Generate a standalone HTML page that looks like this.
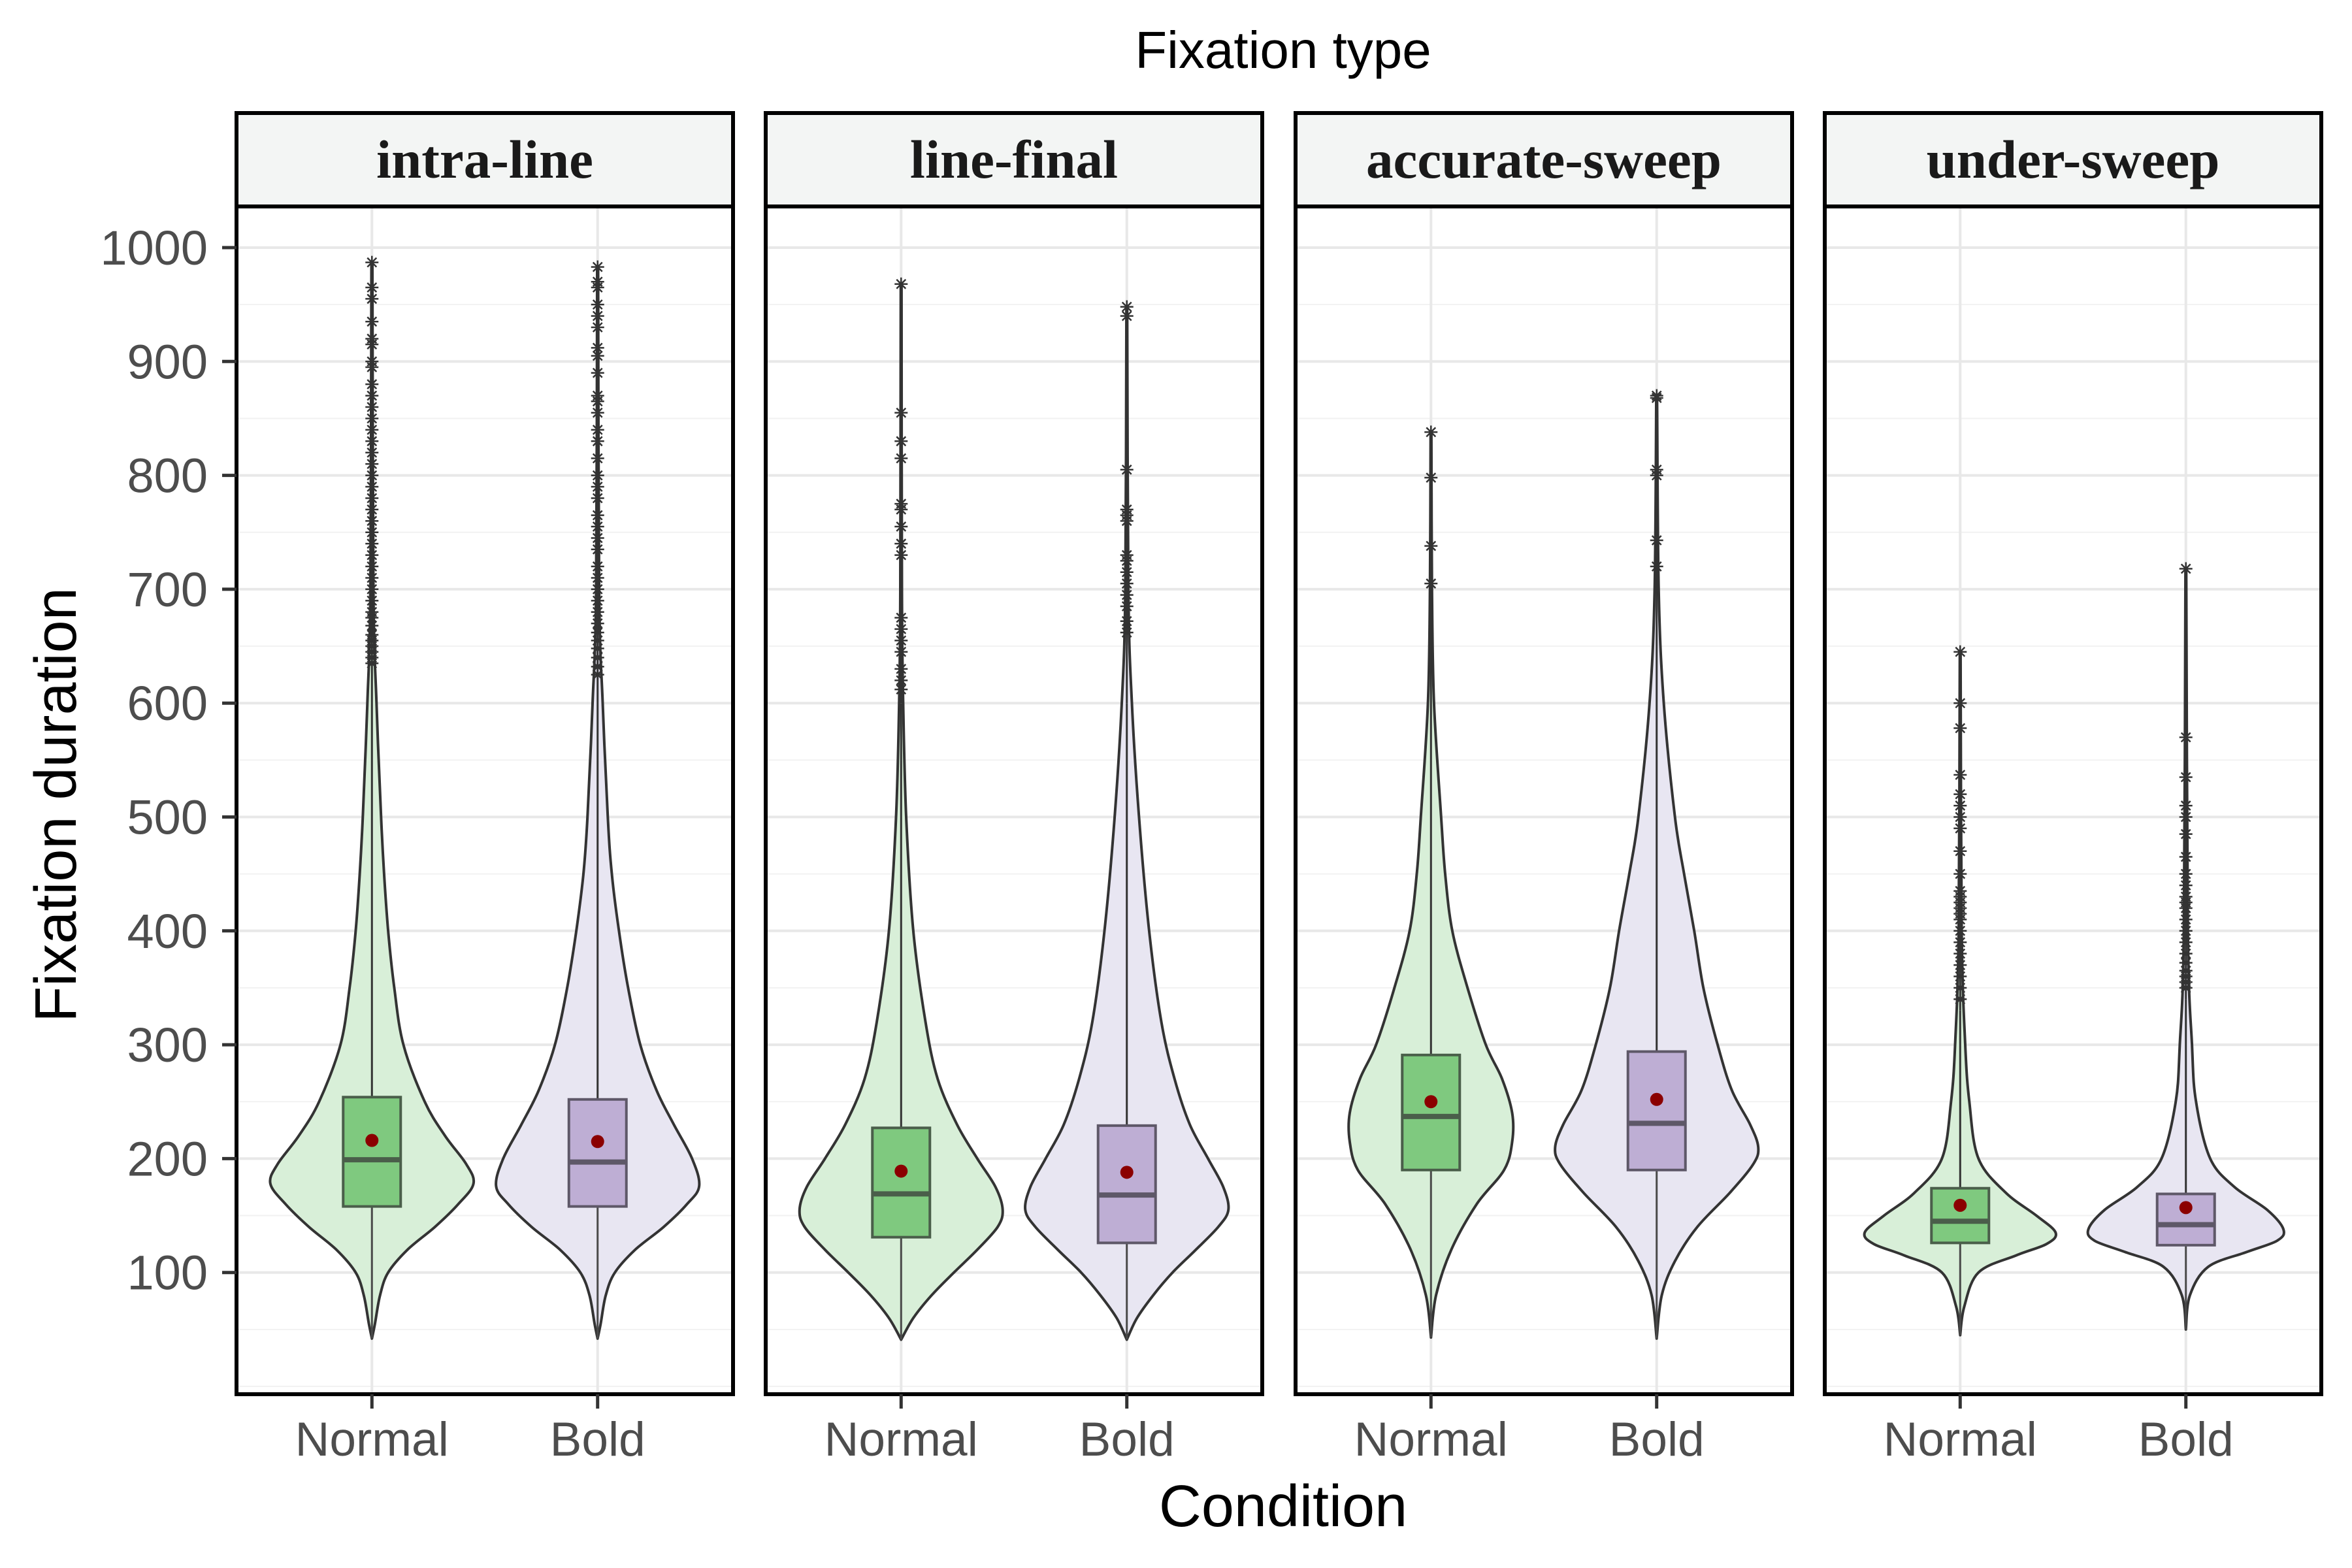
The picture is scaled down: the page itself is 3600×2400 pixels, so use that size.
<!DOCTYPE html>
<html><head><meta charset="utf-8"><style>
html,body{margin:0;padding:0;background:#fff;}
svg{display:block;}
</style></head><body>
<svg id="chart" width="3600" height="2400" xmlns="http://www.w3.org/2000/svg">
<rect x="0" y="0" width="3600" height="2400" fill="#fff"/>
<g id="grid"></g>
<g id="marks"></g>
<g id="frame"></g>
<g id="axes"></g>
<text x="1964" y="104" text-anchor="middle" font-family="Liberation Sans, sans-serif" font-size="80" fill="#000">Fixation type</text>
<text x="1964" y="2336" text-anchor="middle" font-family="Liberation Sans, sans-serif" font-size="90" fill="#000">Condition</text>
<text transform="translate(116,1232) rotate(-90)" text-anchor="middle" font-family="Liberation Sans, sans-serif" font-size="90" fill="#000">Fixation duration</text>
</svg>
<script>
const facets = ["intra-line","line-final","accurate-sweep","under-sweep"];
const conditions = ["Normal","Bold"];
const yTicks = [100,200,300,400,500,600,700,800,900,1000];
const yMinor = [0,50,150,250,350,450,550,650,750,850,950];
// box stats per facet: [Normal, Bold]
const q1 = [[158,158],[131,126],[190,190],[126,124]];
const median = [[199,197],[169,168],[237,231],[145,142]];
const q3 = [[254,252],[227,229],[291,294],[174,169]];
const means = [[216,215],[189,188],[250,252],[159,157]];
const whiskerLow = [[42,42],[41,41],[43,42],[45,50]];
const whiskerHigh = [[630,625],[600,600],[700,720],[330,340]];
// violin profiles: values and relative half-widths
const vVals = [
 [[42,55,80,100,120,140,160,178,195,220,250,300,350,400,450,500,600,700,987],
  [42,55,80,100,120,140,160,176,200,230,260,300,350,400,450,500,600,700,983]],
 [[41,60,80,100,120,140,155,175,200,230,270,320,400,500,600,700,968],
  [41,60,80,100,120,140,155,175,200,230,270,320,400,500,600,700,948]],
 [[43,80,120,160,190,215,240,270,300,350,400,450,500,600,700,838],
  [42,80,110,140,170,195,210,230,260,300,350,400,450,500,600,700,870]],
 [[45,70,100,115,125,135,150,170,200,250,300,400,645],
  [50,80,105,118,128,138,155,175,200,250,300,400,718]]
];
const vDens = [
 [[0,.03,.08,.16,.35,.62,.85,1,.93,.72,.52,.31,.22,.16,.12,.09,.045,.015,.005],
  [0,.03,.08,.17,.37,.65,.88,1,.93,.75,.58,.42,.3,.21,.14,.1,.05,.015,.005]],
 [[0,.12,.3,.52,.75,.95,1,.93,.75,.55,.36,.24,.12,.05,.02,.008,.004],
  [0,.1,.26,.45,.68,.9,1,.95,.8,.62,.47,.34,.22,.12,.05,.015,.004]],
 [[0,.05,.2,.45,.72,.8,.8,.7,.54,.36,.21,.14,.1,.03,.01,.004],
  [0,.05,.18,.4,.72,.95,1,.92,.74,.6,.46,.37,.27,.18,.07,.02,.004]],
 [[0,.04,.18,.55,.85,.94,.75,.45,.18,.09,.05,.015,.004],
  [0,.04,.22,.6,.9,.96,.8,.48,.24,.1,.06,.02,.004]]
];
const outliers = [
 [[635,640,645,650,655,660,668,675,680,690,700,710,720,730,740,750,760,770,780,790,800,810,820,830,840,850,860,870,880,895,900,915,920,935,955,965,987],
  [625,632,640,648,655,662,670,680,690,700,710,720,735,745,755,765,780,790,800,815,830,840,855,865,870,890,905,912,930,940,950,965,970,983]],
 [[612,620,630,645,655,665,675,730,740,755,770,775,815,830,855,968],
  [662,672,685,695,705,715,725,730,760,765,770,805,940,948]],
 [[705,738,798,838],
  [720,743,800,805,868,870]],
 [[340,350,360,370,380,390,400,410,415,420,425,430,435,450,470,490,500,510,520,537,578,600,645],
  [350,355,360,365,372,380,390,400,410,420,425,430,440,450,465,485,500,510,535,570,718]]
];
const NS="http://www.w3.org/2000/svg";
const panelX0 = [362,1172,1983,2793];
const panelW = 760, plotTop = 316, plotBot = 2134, stripTop = 173;
function yS(v){ return 379 + (1000 - v) * 1.743; }
function xS(p, c){ return panelX0[p] + (0.6 + c) * (panelW / 2.2); }
const unitPx = panelW / 2.2;
function mk(parent, tag, attrs){ const e = document.createElementNS(NS, tag); for (const k in attrs) e.setAttribute(k, attrs[k]); parent.appendChild(e); return e; }
function smooth(pts){
  let d = 'M' + pts[0][0].toFixed(1) + ',' + pts[0][1].toFixed(1);
  for (let i = 0; i < pts.length - 1; i++) {
    const p0 = pts[Math.max(0,i-1)], p1 = pts[i], p2 = pts[i+1], p3 = pts[Math.min(pts.length-1,i+2)];
    const c1x = p1[0] + (p2[0]-p0[0])/6, c1y = p1[1] + (p2[1]-p0[1])/6;
    const c2x = p2[0] - (p3[0]-p1[0])/6, c2y = p2[1] - (p3[1]-p1[1])/6;
    d += ` C${c1x.toFixed(1)},${c1y.toFixed(1)} ${c2x.toFixed(1)},${c2y.toFixed(1)} ${p2[0].toFixed(1)},${p2[1].toFixed(1)}`;
  }
  return d;
}
const grid = document.getElementById('grid'), marks = document.getElementById('marks'), frame = document.getElementById('frame'), axes = document.getElementById('axes');
const fills = ["#d8efd8","#e8e6f2"], boxFills = ["#7fc97f","#beaed4"], boxStroke = ["#4a5e4a","#5e5868"];
facets.forEach((f, p) => {
  const x0 = panelX0[p];
  yMinor.forEach(v => { const l = mk(grid,'line',{x1:x0,x2:x0+panelW,y1:yS(v),y2:yS(v),stroke:'#f2f2f2','stroke-width':2});
      });
  yTicks.forEach(v => { const l = mk(grid,'line',{x1:x0,x2:x0+panelW,y1:yS(v),y2:yS(v),stroke:'#e8e8e8','stroke-width':4});
      });
  conditions.forEach((c, ci) => { const l = mk(grid,'line',{x1:xS(p,ci),x2:xS(p,ci),y1:plotTop,y2:plotBot,stroke:'#e8e8e8','stroke-width':4});
      });
  conditions.forEach((c, ci) => {
    const cx = xS(p, ci), vals = vVals[p][ci], dens = vDens[p][ci];
    let right = [], left = [];
    for (let i = 0; i < vals.length; i++) right.push([cx + dens[i]*0.45*unitPx, yS(vals[i])]);
    for (let i = vals.length-1; i >= 0; i--) left.push([cx - dens[i]*0.45*unitPx, yS(vals[i])]);
    let d = smooth(right) + ' L' + smooth(left).slice(1) + ' Z';
    const v = mk(marks,'path',{d:d,fill:fills[ci],stroke:'#333','stroke-width':4,'stroke-linejoin':'round'});
     
    const w1 = mk(marks,'line',{x1:cx,x2:cx,y1:yS(q3[p][ci]),y2:yS(whiskerHigh[p][ci]),stroke:'#333','stroke-width':3});
     
    const w2 = mk(marks,'line',{x1:cx,x2:cx,y1:yS(q1[p][ci]),y2:yS(whiskerLow[p][ci]),stroke:'#4a4a4a','stroke-width':3});
     
    const o = outliers[p][ci];
    if (o.length) { const ol = mk(marks,'line',{x1:cx,x2:cx,y1:yS(whiskerHigh[p][ci]),y2:yS(o[o.length-1]),stroke:'#333','stroke-width':3});
        }
    o.forEach(val => {
      const y = yS(val), s = 10;
      const g = mk(marks,'path',{d:`M${cx-s},${y}H${cx+s}M${cx-s*0.7},${y-s*0.7}L${cx+s*0.7},${y+s*0.7}M${cx-s*0.7},${y+s*0.7}L${cx+s*0.7},${y-s*0.7}M${cx},${y-s}V${y+s}`,stroke:'#333','stroke-width':2.5,fill:'none'});
       
    });
    const bw = 44;
    const b = mk(marks,'rect',{x:cx-bw,y:yS(q3[p][ci]),width:2*bw,height:yS(q1[p][ci])-yS(q3[p][ci]),fill:boxFills[ci],stroke:boxStroke[ci],'stroke-width':4});
     
    const m = mk(marks,'line',{x1:cx-bw,x2:cx+bw,y1:yS(median[p][ci]),y2:yS(median[p][ci]),stroke:boxStroke[ci],'stroke-width':8});
     
    const mp = mk(marks,'circle',{cx:cx,cy:yS(means[p][ci]),r:10,fill:'#8b0000'});
     
    const tk = mk(axes,'line',{x1:cx,x2:cx,y1:plotBot,y2:plotBot+22,stroke:'#333','stroke-width':5});
     
    const tl = mk(axes,'text',{x:cx,y:2228,'text-anchor':'middle','font-family':'Liberation Sans, sans-serif','font-size':73,fill:'#4d4d4d'});
    tl.textContent = c;
     
  });
  const pb = mk(frame,'rect',{x:x0,y:plotTop,width:panelW,height:plotBot-plotTop,fill:'none',stroke:'#000','stroke-width':6});
   
  const st = mk(frame,'rect',{x:x0,y:stripTop,width:panelW,height:plotTop-stripTop,fill:'#f3f5f4',stroke:'#000','stroke-width':6});
   
  const sl = mk(frame,'text',{x:x0+panelW/2,y:272,'text-anchor':'middle','font-family':'Liberation Serif, serif','font-weight':'bold','font-size':83,fill:'#1a1a1a'});
  sl.textContent = f;
   
});
yTicks.forEach(v => {
  const t = mk(axes,'line',{x1:340,x2:362,y1:yS(v),y2:yS(v),stroke:'#333','stroke-width':5});
   
  const l = mk(axes,'text',{x:318,y:yS(v)+26,'text-anchor':'end','font-family':'Liberation Sans, sans-serif','font-size':74,fill:'#4d4d4d'});
  l.textContent = v;
   
});
</script>
</body></html>
